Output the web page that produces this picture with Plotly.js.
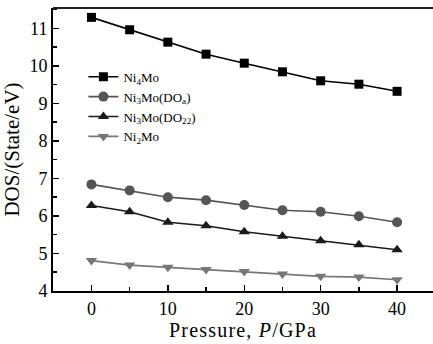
<!DOCTYPE html>
<html>
<head>
<meta charset="utf-8">
<script src="https://cdn.plot.ly/plotly-3.0.1.min.js"></script>
<style>
  html, body { margin: 0; padding: 0; background: #fff; }
  #chart { width: 433px; height: 344px; }
  /* slightly open letter spacing on the pressure axis title */
  #chart .xtitle { letter-spacing: 1.2px; }
</style>
</head>
<body>
<div id="chart"></div>
<script>
// Pressure (GPa)
const pressure = [0, 5, 10, 15, 20, 25, 30, 35, 40];

// Density of states at the Fermi level (State/eV)
const ni4Mo     = [11.29, 10.96, 10.63, 10.31, 10.07, 9.84, 9.60, 9.51, 9.32];
const ni3MoDOa  = [6.84, 6.68, 6.50, 6.42, 6.29, 6.15, 6.11, 5.99, 5.83];
const ni3MoDO22 = [6.28, 6.11, 5.83, 5.74, 5.58, 5.46, 5.34, 5.23, 5.10];
const ni2Mo     = [4.81, 4.69, 4.63, 4.57, 4.52, 4.45, 4.39, 4.37, 4.30];

const seriesNames = [
  'Ni<sub>4</sub>Mo',
  'Ni<sub>3</sub>Mo(DO<sub>a</sub>)',
  'Ni<sub>3</sub>Mo(DO<sub>22</sub>)',
  'Ni<sub>2</sub>Mo'
];

const xTickVals = [0, 10, 20, 30, 40];
const yTickVals = [4, 5, 6, 7, 8, 9, 10, 11];

const serif = 'Liberation Serif, Times New Roman, serif';

function series(y, name, color, symbol, size) {
  return {
    x: pressure, y: y, name: name, type: 'scatter', mode: 'lines+markers',
    line: { color: color, width: 1.6 },
    marker: { color: color, symbol: symbol, size: size }
  };
}

const data = [
  series(ni4Mo, seriesNames[0], '#000000', 'square', 9),
  series(ni3MoDOa, seriesNames[1], '#555555', 'circle', 10),
  series(ni3MoDO22, seriesNames[2], '#1a1a1a', 'triangle-up', 10),
  series(ni2Mo, seriesNames[3], '#777777', 'triangle-down', 10)
];

const layout = {
  width: 433, height: 344,
  margin: { l: 53, r: 0, t: 8, b: 53 },
  paper_bgcolor: '#ffffff', plot_bgcolor: '#ffffff',
  font: { family: serif, color: '#000' },
  showlegend: true,
  legend: {
    x: 0.08, y: 0.81, xanchor: 'left', yanchor: 'top',
    bgcolor: 'rgba(0,0,0,0)', borderwidth: 0,
    font: { family: serif, size: 13, color: '#000' },
    tracegroupgap: 0, itemwidth: 30
  },
  xaxis: {
    range: [-5.03, 44.7],
    tickvals: xTickVals, ticktext: xTickVals.map(String),
    ticks: 'inside', ticklen: 6, tickwidth: 1.5, tickcolor: '#000',
    minor: { dtick: 5, tick0: 5, ticks: 'inside', ticklen: 4, tickwidth: 1.5, tickcolor: '#000' },
    showline: true, linecolor: '#000', linewidth: 2,
    showgrid: false, zeroline: false,
    tickfont: { family: serif, size: 18, color: '#000' },
    title: { text: 'Pressure, <i>P</i>/GPa', font: { family: serif, size: 20, color: '#000' }, standoff: 2 }
  },
  yaxis: {
    range: [4, 11.54],
    tickvals: yTickVals, ticktext: yTickVals.map(String),
    ticks: 'inside', ticklen: 6, tickwidth: 1.5, tickcolor: '#000',
    minor: { dtick: 0.5, tick0: 4.5, ticks: 'inside', ticklen: 4, tickwidth: 1.5, tickcolor: '#000' },
    showline: true, linecolor: '#000', linewidth: 2,
    showgrid: false, zeroline: false,
    tickfont: { family: serif, size: 18, color: '#000' },
    title: { text: 'DOS/(State/eV)', font: { family: serif, size: 21, color: '#000' }, standoff: 4 }
  },
  shapes: [
    { type: 'line', xref: 'paper', yref: 'paper', x0: 0, x1: 1, y0: 1, y1: 1,
      line: { color: '#222', width: 2 } }
  ]
};

Plotly.newPlot('chart', data, layout, { staticPlot: true, displayModeBar: false });
</script>
</body>
</html>
